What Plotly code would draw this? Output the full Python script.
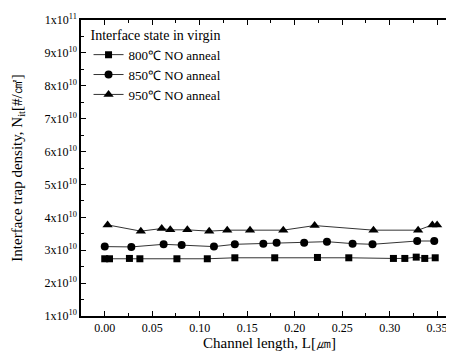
import plotly.graph_objects as go

# Channel length [um] and interface trap density [#/cm^2]
x_800 = [0.000, 0.005, 0.026, 0.037, 0.076, 0.108, 0.137, 0.179, 0.224, 0.257, 0.304, 0.316, 0.328, 0.337, 0.348]
y_800 = [2.74e10, 2.74e10, 2.75e10, 2.74e10, 2.74e10, 2.74e10, 2.77e10, 2.77e10, 2.78e10, 2.77e10, 2.75e10, 2.75e10, 2.79e10, 2.75e10, 2.77e10]

x_850 = [0.000, 0.028, 0.062, 0.081, 0.115, 0.137, 0.167, 0.181, 0.210, 0.234, 0.261, 0.282, 0.329, 0.347]
y_850 = [3.11e10, 3.10e10, 3.18e10, 3.16e10, 3.11e10, 3.18e10, 3.20e10, 3.23e10, 3.23e10, 3.26e10, 3.20e10, 3.18e10, 3.28e10, 3.28e10]

x_950 = [0.003, 0.038, 0.060, 0.069, 0.087, 0.110, 0.129, 0.153, 0.188, 0.221, 0.283, 0.330, 0.345, 0.350]
y_950 = [3.77e10, 3.58e10, 3.66e10, 3.62e10, 3.62e10, 3.58e10, 3.61e10, 3.61e10, 3.61e10, 3.75e10, 3.61e10, 3.61e10, 3.77e10, 3.77e10]

series_names = ["800℃ NO anneal", "850℃ NO anneal", "950℃ NO anneal"]
legend_title = "Interface state in virgin"

x_ticks = [0.00, 0.05, 0.10, 0.15, 0.20, 0.25, 0.30, 0.35]
y_tick_vals = [1e10, 2e10, 3e10, 4e10, 5e10, 6e10, 7e10, 8e10, 9e10, 1e11]
y_tick_text = ["1x10<sup>10</sup>", "2x10<sup>10</sup>", "3x10<sup>10</sup>", "4x10<sup>10</sup>",
               "5x10<sup>10</sup>", "6x10<sup>10</sup>", "7x10<sup>10</sup>", "8x10<sup>10</sup>",
               "9x10<sup>10</sup>", "1x10<sup>11</sup>"]

FONT = "Liberation Serif, Times New Roman, serif"

fig = go.Figure()
for xs, ys, name, sym, sz in [
    (x_800, y_800, series_names[0], "square", 7),
    (x_850, y_850, series_names[1], "circle", 8),
    (x_950, y_950, series_names[2], "triangle-up", 9),
]:
    fig.add_trace(go.Scatter(
        x=xs, y=ys, name=name, mode="lines+markers",
        line=dict(color="#333333", width=1),
        marker=dict(symbol=sym, size=sz, color="black"),
    ))

fig.update_layout(
    width=454, height=353,
    margin=dict(l=73, r=2, t=12, b=45),
    paper_bgcolor="white", plot_bgcolor="white",
    font=dict(family=FONT, size=12, color="black"),
    showlegend=True,
    legend=dict(
        title=dict(text=legend_title, font=dict(size=14, family=FONT)),
        x=0.02, y=0.995, xanchor="left", yanchor="top",
        bgcolor="rgba(0,0,0,0)", font=dict(size=13, family=FONT),
        tracegroupgap=0, itemwidth=30,
    ),
    xaxis=dict(
        range=[-0.025, 0.372], tickvals=x_ticks, tickformat=".2f",
        ticks="inside", ticklen=5, tickcolor="black", mirror="ticks",
        showline=True, linecolor="black", linewidth=1.5, showgrid=False, zeroline=False,
        minor=dict(ticks="inside", ticklen=3, dtick=0.025, tickcolor="black"),
        tickfont=dict(size=12, family=FONT),
        title=dict(text="Channel length, L[㎛]", font=dict(size=15, family=FONT), standoff=0),
    ),
    yaxis=dict(
        range=[1e10, 1e11], tickvals=y_tick_vals, ticktext=y_tick_text,
        ticks="inside", ticklen=5, tickcolor="black", mirror="ticks",
        showline=True, linecolor="black", linewidth=1.5, showgrid=False, zeroline=False,
        minor=dict(ticks="inside", ticklen=3, tickvals=[1.5e10 + i * 1e10 for i in range(9)], tickcolor="black"),
        tickfont=dict(size=12, family=FONT),
        title=dict(text="Interface trap density, N<sub>it</sub>[#/㎠]", font=dict(size=15, family=FONT), standoff=18),
    ),
)

fig.write_html("out.html")
